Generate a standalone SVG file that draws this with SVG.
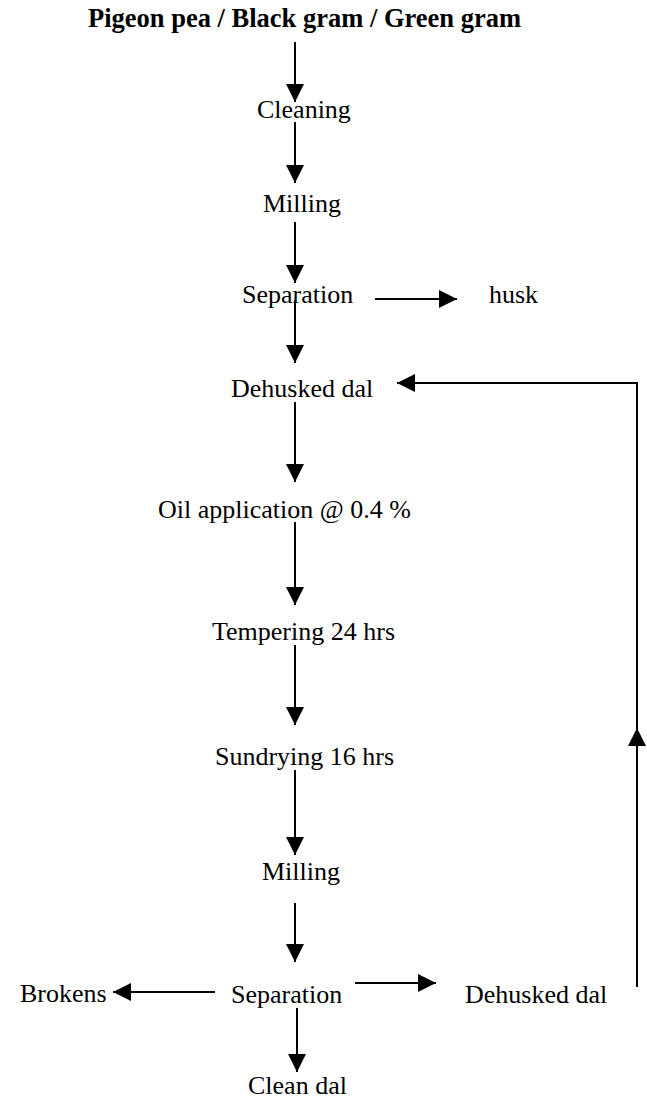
<svg xmlns="http://www.w3.org/2000/svg" width="647" height="1099" viewBox="0 0 647 1099">
<style>
text{font-family:"Liberation Serif","Times New Roman",serif;font-size:26px;fill:#000}
.title{font-weight:bold;font-size:26.5px}
.c{stroke:#000;stroke-width:2;fill:none}
</style>
<defs>
<marker id="ah" markerWidth="18" markerHeight="20" refX="18" refY="10" orient="auto" markerUnits="userSpaceOnUse"><path d="M0,1 L18,10 L0,19 z" fill="#000"/></marker>
</defs>
<rect width="647" height="1099" fill="#fff"/>
<g id="connectors">
<line class="c" x1="295" y1="42" x2="295" y2="102" marker-end="url(#ah)"/>
<line class="c" x1="295" y1="122" x2="295" y2="183" marker-end="url(#ah)"/>
<line class="c" x1="295" y1="222" x2="295" y2="283" marker-end="url(#ah)"/>
<line class="c" x1="295" y1="300" x2="295" y2="363" marker-end="url(#ah)"/>
<line class="c" x1="295" y1="402" x2="295" y2="482" marker-end="url(#ah)"/>
<line class="c" x1="295" y1="522" x2="295" y2="605" marker-end="url(#ah)"/>
<line class="c" x1="295" y1="645" x2="295" y2="725" marker-end="url(#ah)"/>
<line class="c" x1="295" y1="770" x2="295" y2="855" marker-end="url(#ah)"/>
<line class="c" x1="295" y1="903" x2="295" y2="962" marker-end="url(#ah)"/>
<line class="c" x1="375" y1="299" x2="457" y2="299" marker-end="url(#ah)"/>
<line class="c" x1="215" y1="992" x2="113" y2="992" marker-end="url(#ah)"/>
<line class="c" x1="355" y1="983" x2="436" y2="983" marker-end="url(#ah)"/>
<line class="c" x1="297" y1="1008" x2="297" y2="1072" marker-end="url(#ah)"/>
<line class="c" x1="637" y1="987" x2="637" y2="728" marker-end="url(#ah)"/>
<path class="c" d="M637,728 V383 H397" marker-end="url(#ah)"/>
</g>
<g id="n-title"><text class="title" x="88" y="27">Pigeon pea / Black gram / Green gram</text></g>
<g id="n-cleaning"><text x="257" y="118">Cleaning</text></g>
<g id="n-milling1"><text x="263" y="212">Milling</text></g>
<g id="n-separation1"><text x="242" y="303">Separation</text></g>
<g id="n-husk"><text x="489" y="303">husk</text></g>
<g id="n-dehusked1"><text x="231" y="397">Dehusked dal</text></g>
<g id="n-oil"><text x="158" y="518">Oil application @ 0.4 %</text></g>
<g id="n-tempering"><text x="212" y="640">Tempering 24 hrs</text></g>
<g id="n-sundrying"><text x="215" y="765">Sundrying 16 hrs</text></g>
<g id="n-milling2"><text x="262" y="880">Milling</text></g>
<g id="n-separation2"><text x="231" y="1003">Separation</text></g>
<g id="n-brokens"><text x="20" y="1002">Brokens</text></g>
<g id="n-dehusked2"><text x="465" y="1003">Dehusked dal</text></g>
<g id="n-cleandal"><text x="248" y="1094">Clean dal</text></g>
</svg>
